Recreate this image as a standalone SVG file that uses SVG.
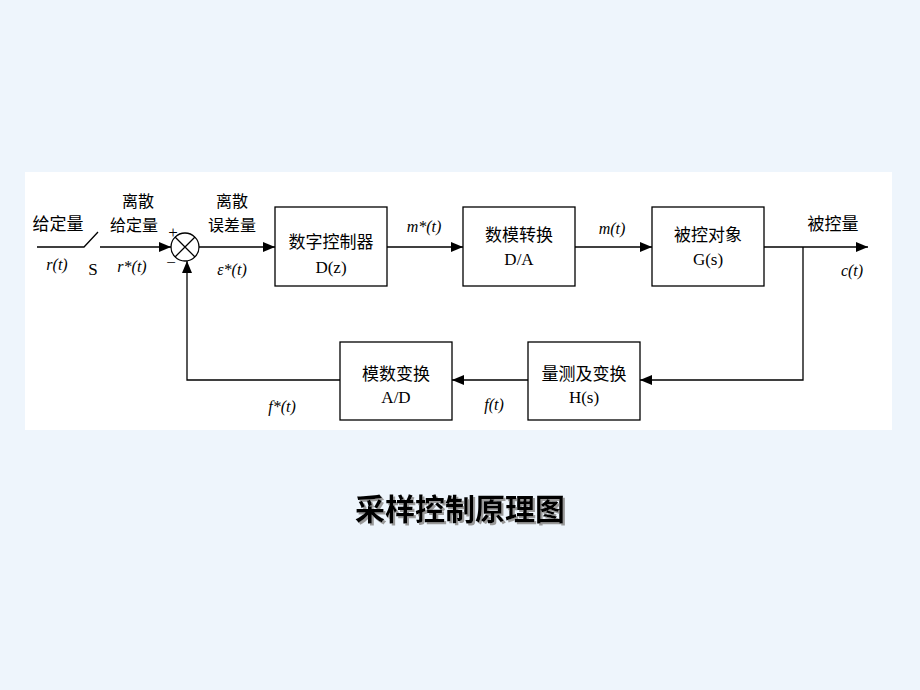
<svg xmlns="http://www.w3.org/2000/svg" width="920" height="690" viewBox="0 0 920 690">
<defs>
<marker id="ar" markerWidth="12" markerHeight="10" refX="12" refY="5" orient="auto" markerUnits="userSpaceOnUse"><path d="M0,0 L12,5 L0,10 Z" fill="#000"/></marker>
<filter id="sh" x="-10%" y="-30%" width="120%" height="160%"><feDropShadow dx="2" dy="2" stdDeviation="0" flood-color="#999"/></filter>
<style>
.b{fill:#fff;stroke:#000;stroke-width:1.3}
.l{fill:none;stroke:#000;stroke-width:1.3}
.t{font-family:"Noto Sans CJK SC","Liberation Serif",serif;font-size:17px;fill:#000;text-anchor:middle}
.s{font-size:16px}
.m{font-family:"Liberation Serif",serif;font-size:17px;fill:#000;text-anchor:middle}
.i{font-family:"Liberation Serif",serif;font-style:italic;font-size:16px;fill:#000;text-anchor:middle}
</style>
</defs>
<rect width="920" height="690" fill="#eef5fc"/>
<rect x="25" y="172" width="867" height="258" fill="#fff"/>
<g id="connectors">
<path class="l" d="M37,247 H84 L98,232"/>
<path class="l" d="M100,247 H171" marker-end="url(#ar)"/>
<path class="l" d="M199,247 H275" marker-end="url(#ar)"/>
<path class="l" d="M387,247 H463" marker-end="url(#ar)"/>
<path class="l" d="M575,247 H652" marker-end="url(#ar)"/>
<path class="l" d="M764,247 H868" marker-end="url(#ar)"/>
<path class="l" d="M803,247 V380 H640" marker-end="url(#ar)"/>
<path class="l" d="M528,380 H452" marker-end="url(#ar)"/>
<path class="l" d="M340,380 H187 V261" marker-end="url(#ar)"/>
</g>
<g id="sum"><circle cx="185" cy="247" r="14" class="b"/><path class="l" d="M175,237 L195,257 M195,237 L175,257"/></g>
<g id="n1"><rect class="b" x="275" y="207" width="112" height="79"/><text class="t" x="331" y="248">数字控制器</text><text class="m" x="331" y="273">D(z)</text></g>
<g id="n2"><rect class="b" x="463" y="207" width="112" height="79"/><text class="t" x="519" y="241">数模转换</text><text class="m" x="519" y="265">D/A</text></g>
<g id="n3"><rect class="b" x="652" y="207" width="112" height="79"/><text class="t" x="708" y="241">被控对象</text><text class="m" x="708" y="265">G(s)</text></g>
<g id="n4"><rect class="b" x="528" y="342" width="112" height="78"/><text class="t" x="584" y="380">量测及变换</text><text class="m" x="584" y="403">H(s)</text></g>
<g id="n5"><rect class="b" x="340" y="342" width="112" height="78"/><text class="t" x="396" y="380">模数变换</text><text class="m" x="396" y="403">A/D</text></g>
<g id="labels">
<text class="t" x="58" y="230">给定量</text>
<text class="t s" x="138" y="207">离散</text>
<text class="t s" x="134" y="231">给定量</text>
<text class="m" x="173" y="238" font-size="14">+</text>
<text class="m" x="171" y="268" font-size="14">−</text>
<text class="t s" x="232" y="207">离散</text>
<text class="t s" x="232" y="231">误差量</text>
<text class="i" x="57" y="270">r(t)</text>
<text class="m" x="93" y="275" font-size="19">S</text>
<text class="i" x="132" y="272">r*(t)</text>
<text class="i" x="232" y="275">ε*(t)</text>
<text class="i" x="424" y="232">m*(t)</text>
<text class="i" x="612" y="234">m(t)</text>
<text class="t" x="833" y="230">被控量</text>
<text class="i" x="852" y="276">c(t)</text>
<text class="i" x="282" y="412">f*(t)</text>
<text class="i" x="494" y="410">f(t)</text>
</g>
<text x="460" y="520" filter="url(#sh)" font-family="Noto Sans CJK SC,sans-serif" font-weight="bold" font-size="30" text-anchor="middle" fill="#000">采样控制原理图</text>
</svg>
